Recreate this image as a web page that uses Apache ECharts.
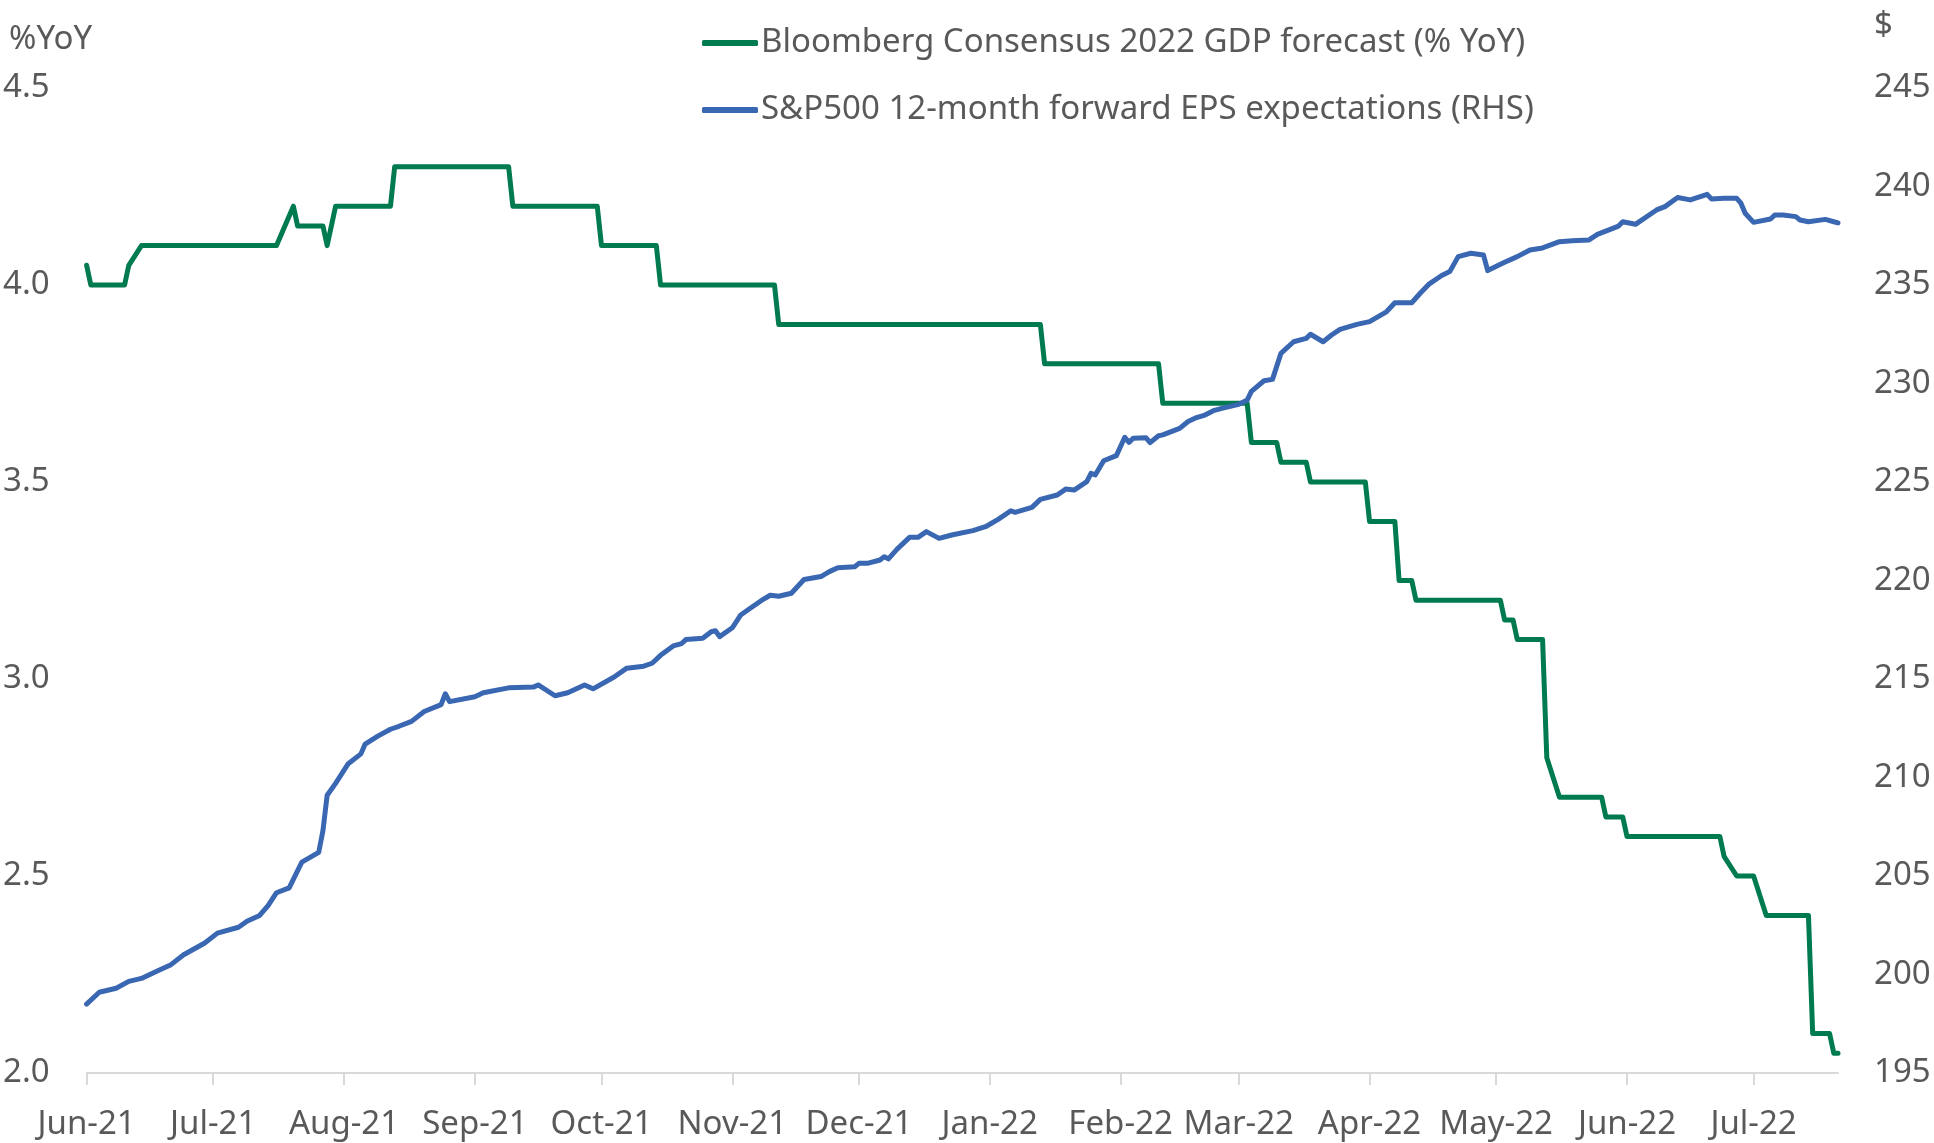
<!DOCTYPE html>
<html>
<head>
<meta charset="utf-8">
<title>GDP forecast vs EPS expectations</title>
<script src="https://cdn.jsdelivr.net/npm/echarts@6.0.0/dist/echarts.min.js"></script>
<style>
  html, body { margin: 0; padding: 0; background: #fff; }
  #chart { width: 1934px; height: 1143px; }
</style>
</head>
<body>
<div id="chart"></div>
<script>
// Bloomberg consensus 2022 GDP forecast (% YoY), change points
var gdpDates = [
    '2021-06-01', '2021-06-02', '2021-06-10', '2021-06-11', '2021-06-14',
    '2021-07-16', '2021-07-20', '2021-07-21', '2021-07-27', '2021-07-28',
    '2021-07-30', '2021-08-12', '2021-08-13', '2021-09-09', '2021-09-10',
    '2021-09-30', '2021-10-01', '2021-10-14', '2021-10-15', '2021-11-11',
    '2021-11-12', '2022-01-13', '2022-01-14', '2022-02-10', '2022-02-11',
    '2022-03-03', '2022-03-04', '2022-03-10', '2022-03-11', '2022-03-17',
    '2022-03-18', '2022-03-31', '2022-04-01', '2022-04-07', '2022-04-08',
    '2022-04-11', '2022-04-12', '2022-05-02', '2022-05-03', '2022-05-05',
    '2022-05-06', '2022-05-12', '2022-05-13', '2022-05-16', '2022-05-26',
    '2022-05-27', '2022-05-31', '2022-06-01', '2022-06-23', '2022-06-24',
    '2022-06-27', '2022-07-01', '2022-07-04', '2022-07-14', '2022-07-15',
    '2022-07-19', '2022-07-20', '2022-07-21'
];
var gdpValues = [
    4.05, 4.0, 4.0, 4.05, 4.1,
    4.1, 4.2, 4.15, 4.15, 4.1,
    4.2, 4.2, 4.3, 4.3, 4.2,
    4.2, 4.1, 4.1, 4.0, 4.0,
    3.9, 3.9, 3.8, 3.8, 3.7,
    3.7, 3.6, 3.6, 3.55, 3.55,
    3.5, 3.5, 3.4, 3.4, 3.25,
    3.25, 3.2, 3.2, 3.15, 3.15,
    3.1, 3.1, 2.8, 2.7, 2.7,
    2.65, 2.65, 2.6, 2.6, 2.55,
    2.5, 2.5, 2.4, 2.4, 2.1,
    2.1, 2.05, 2.05
];

// S&P500 12-month forward EPS ($)
var epsDates = [
    '2021-06-01', '2021-06-04', '2021-06-08', '2021-06-11', '2021-06-14',
    '2021-06-18', '2021-06-21', '2021-06-24', '2021-06-29', '2021-07-02',
    '2021-07-07', '2021-07-09', '2021-07-12', '2021-07-14', '2021-07-16',
    '2021-07-19', '2021-07-22', '2021-07-26', '2021-07-27', '2021-07-28',
    '2021-07-30', '2021-08-02', '2021-08-05', '2021-08-06', '2021-08-09',
    '2021-08-12', '2021-08-14', '2021-08-17', '2021-08-20', '2021-08-24',
    '2021-08-25', '2021-08-26', '2021-09-01', '2021-09-03', '2021-09-09',
    '2021-09-15', '2021-09-16', '2021-09-20', '2021-09-23', '2021-09-27',
    '2021-09-29', '2021-10-04', '2021-10-07', '2021-10-11', '2021-10-13',
    '2021-10-15', '2021-10-18', '2021-10-20', '2021-10-21', '2021-10-25',
    '2021-10-27', '2021-10-28', '2021-10-29', '2021-11-01', '2021-11-03',
    '2021-11-05', '2021-11-08', '2021-11-10', '2021-11-12', '2021-11-15',
    '2021-11-18', '2021-11-22', '2021-11-24', '2021-11-26', '2021-11-30',
    '2021-12-01', '2021-12-03', '2021-12-06', '2021-12-07', '2021-12-08',
    '2021-12-10', '2021-12-13', '2021-12-15', '2021-12-17', '2021-12-20',
    '2021-12-23', '2021-12-28', '2021-12-31', '2022-01-03', '2022-01-06',
    '2022-01-07', '2022-01-11', '2022-01-13', '2022-01-17', '2022-01-19',
    '2022-01-21', '2022-01-24', '2022-01-25', '2022-01-26', '2022-01-28',
    '2022-01-31', '2022-02-02', '2022-02-03', '2022-02-04', '2022-02-07',
    '2022-02-08', '2022-02-10', '2022-02-11', '2022-02-15', '2022-02-17',
    '2022-02-19', '2022-02-21', '2022-02-23', '2022-02-25', '2022-03-01',
    '2022-03-03', '2022-03-04', '2022-03-07', '2022-03-09', '2022-03-11',
    '2022-03-14', '2022-03-17', '2022-03-18', '2022-03-21', '2022-03-23',
    '2022-03-25', '2022-03-29', '2022-04-01', '2022-04-05', '2022-04-07',
    '2022-04-11', '2022-04-13', '2022-04-15', '2022-04-18', '2022-04-20',
    '2022-04-22', '2022-04-25', '2022-04-28', '2022-04-29', '2022-05-03',
    '2022-05-06', '2022-05-09', '2022-05-12', '2022-05-16', '2022-05-19',
    '2022-05-23', '2022-05-25', '2022-05-30', '2022-05-31', '2022-06-03',
    '2022-06-08', '2022-06-10', '2022-06-13', '2022-06-16', '2022-06-20',
    '2022-06-21', '2022-06-24', '2022-06-27', '2022-06-28', '2022-06-29',
    '2022-07-01', '2022-07-05', '2022-07-06', '2022-07-08', '2022-07-11',
    '2022-07-12', '2022-07-14', '2022-07-18', '2022-07-20', '2022-07-21'
];
var epsValues = [
    198.5, 199.1, 199.3, 199.65, 199.8,
    200.2, 200.5, 201.0, 201.6, 202.1,
    202.4, 202.7, 203.0, 203.5, 204.15,
    204.4, 205.7, 206.2, 207.3, 209.1,
    209.7, 210.7, 211.2, 211.7, 212.1,
    212.45, 212.6, 212.85, 213.35, 213.7,
    214.25, 213.85, 214.1, 214.3, 214.55,
    214.6, 214.7, 214.15, 214.3, 214.7,
    214.5, 215.1, 215.55, 215.65, 215.8,
    216.2, 216.68, 216.8, 217.0, 217.07,
    217.4, 217.45, 217.15, 217.6, 218.25,
    218.55, 219.0, 219.25, 219.2, 219.35,
    220.05, 220.2, 220.45, 220.65, 220.7,
    220.87, 220.87, 221.04, 221.21, 221.1,
    221.58, 222.19, 222.19, 222.48, 222.14,
    222.31, 222.53, 222.73, 223.1, 223.54,
    223.46, 223.71, 224.12, 224.34, 224.64,
    224.59, 225.02, 225.44, 225.36, 226.08,
    226.34, 227.27, 227.01, 227.22, 227.25,
    227.0, 227.35, 227.39, 227.72, 228.07,
    228.27, 228.4, 228.62, 228.74, 228.94,
    229.16, 229.6, 230.14, 230.21, 231.53,
    232.12, 232.29, 232.5, 232.12, 232.46,
    232.75, 233.0, 233.14, 233.64, 234.1,
    234.1, 234.58, 235.03, 235.47, 235.68,
    236.44, 236.61, 236.52, 235.73, 236.15,
    236.44, 236.78, 236.88, 237.2, 237.25,
    237.29, 237.57, 237.99, 238.21, 238.08,
    238.81, 238.98, 239.44, 239.32, 239.6,
    239.37, 239.4, 239.4, 239.15, 238.64,
    238.18, 238.35, 238.55, 238.55, 238.47,
    238.3, 238.21, 238.33, 238.21, 238.15
];

var monthNames = ['Jan', 'Feb', 'Mar', 'Apr', 'May', 'Jun', 'Jul', 'Aug', 'Sep', 'Oct', 'Nov', 'Dec'];

var seriesNames = [
    'Bloomberg Consensus 2022 GDP forecast (% YoY)',
    'S&P500 12-month forward EPS expectations (RHS)'
];
var green = '#007A4F';
var blue = '#3A67B1';
var textGrey = '#595959';
var fontName = 'Noto Sans';
var fs = 33;

function pairs(dates, values) {
    return dates.map(function (d, i) { return [d, values[i]]; });
}

var chart = echarts.init(document.getElementById('chart'), null, { renderer: 'canvas' });
var option = {
    animation: false,
    backgroundColor: '#fff',
    textStyle: { fontFamily: fontName },
    grid: { left: 86, right: 96, top: 88, bottom: 70, containLabel: false },
    legend: {
        orient: 'vertical',
        left: 697,
        top: 20,
        itemWidth: 56,
        itemHeight: 6,
        itemGap: 31,
        icon: 'roundRect',
        textStyle: { fontSize: fs, color: textGrey, fontFamily: fontName, lineHeight: 36, padding: [0, 0, 0, -2] },
        data: seriesNames
    },
    graphic: [
        { type: 'text', left: 9, top: 23, style: { text: '%YoY', fontSize: fs, fill: textGrey, fontFamily: fontName } },
        { type: 'text', left: 1874, top: 9, style: { text: '$', fontSize: fs, fill: textGrey, fontFamily: fontName } }
    ],
    xAxis: {
        type: 'time',
        min: '2021-06-01',
        max: '2022-07-21',
        splitNumber: 14,
        axisLine: { lineStyle: { color: '#D9D9D9', width: 2 } },
        axisTick: { show: true, length: 12, lineStyle: { color: '#D9D9D9', width: 2 } },
        splitLine: { show: false },
        axisLabel: {
            margin: 35,
            fontSize: fs,
            color: textGrey,
            fontFamily: fontName,
            formatter: function (val) {
                var d = new Date(val);
                return monthNames[d.getMonth()] + '-' + String(d.getFullYear()).slice(2);
            }
        }
    },
    yAxis: [{
        type: 'value',
        min: 2,
        max: 4.5,
        interval: 0.5,
        axisLine: { show: false },
        axisTick: { show: false },
        splitLine: { show: false },
        axisLabel: {
            margin: 37,
            fontSize: fs,
            color: textGrey,
            fontFamily: fontName,
            formatter: function (v) { return v.toFixed(1); }
        }
    }, {
        type: 'value',
        min: 195,
        max: 245,
        interval: 5,
        axisLine: { show: false },
        axisTick: { show: false },
        splitLine: { show: false },
        axisLabel: {
            margin: 36,
            fontSize: fs,
            color: textGrey,
            fontFamily: fontName
        }
    }],
    series: [{
        name: seriesNames[0],
        type: 'line',
        yAxisIndex: 0,
        showSymbol: false,
        symbol: 'none',
        color: green,
        lineStyle: { color: green, width: 5, join: 'round', cap: 'round' },
        data: pairs(gdpDates, gdpValues)
    }, {
        name: seriesNames[1],
        type: 'line',
        yAxisIndex: 1,
        showSymbol: false,
        symbol: 'none',
        color: blue,
        lineStyle: { color: blue, width: 5, join: 'round', cap: 'round' },
        data: pairs(epsDates, epsValues)
    }]
};
chart.setOption(option);
</script>
</body>
</html>
